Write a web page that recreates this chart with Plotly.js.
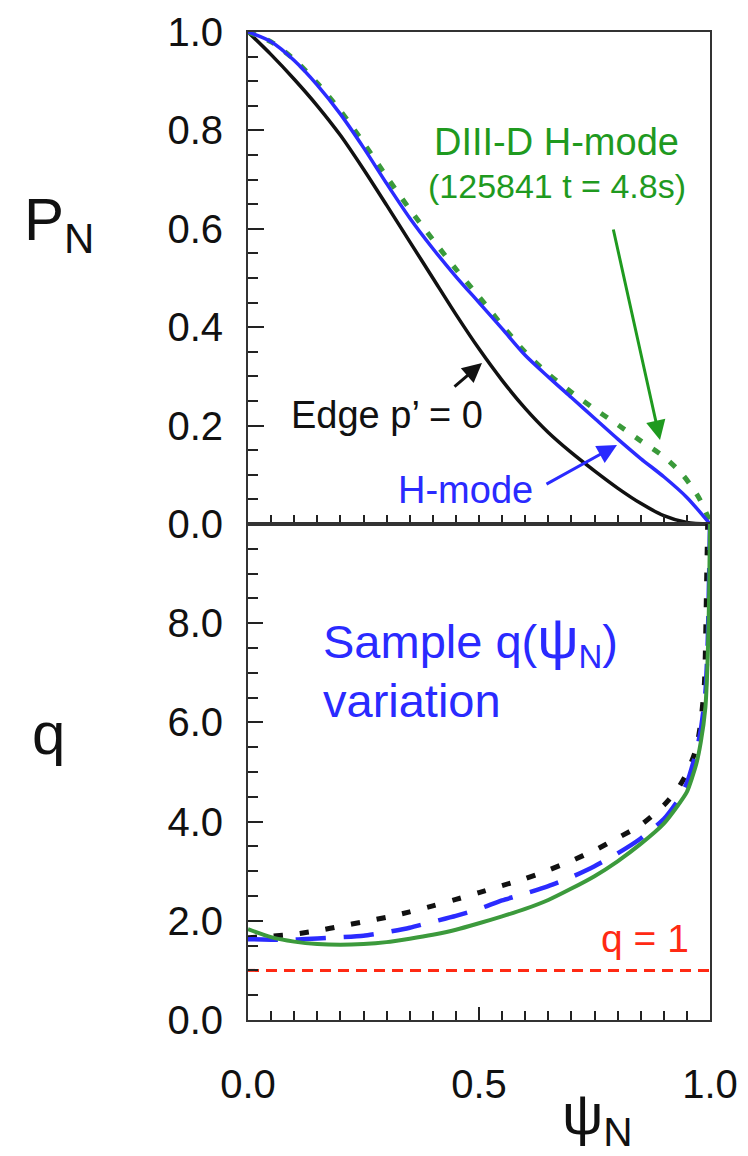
<!DOCTYPE html>
<html>
<head>
<meta charset="utf-8">
<script src="https://cdn.plot.ly/plotly-3.0.1.min.js"></script>
<style>html,body{margin:0;padding:0;background:#fff;}#chart{width:748px;height:1156px;}</style>
</head>
<body>
<div id="chart"></div>
<script>
// ---------- DATA ----------
// Top panel: normalized pressure P_N vs psi_N
const psiTop = [0, 0.05, 0.10, 0.15, 0.20, 0.25, 0.30, 0.35, 0.40, 0.45, 0.50, 0.55, 0.60, 0.65, 0.70, 0.75, 0.80, 0.85, 0.90, 0.95, 1.00];
const pEdgeZero = [1.000, 0.954, 0.904, 0.850, 0.790, 0.721, 0.648, 0.574, 0.500, 0.426, 0.356, 0.292, 0.235, 0.186, 0.145, 0.108, 0.073, 0.042, 0.017, 0.003, 0.000];
const pHmode = [1.000, 0.980, 0.942, 0.892, 0.833, 0.765, 0.692, 0.622, 0.560, 0.503, 0.450, 0.397, 0.343, 0.299, 0.257, 0.215, 0.173, 0.133, 0.096, 0.054, 0.000];
const psiDiii = [0, 0.05, 0.10, 0.15, 0.20, 0.25, 0.30, 0.35, 0.40, 0.45, 0.50, 0.55, 0.60, 0.65, 0.70, 0.75, 0.80, 0.85, 0.90, 0.94, 0.975, 1.00];
const pDiii = [1.000, 0.980, 0.944, 0.896, 0.840, 0.775, 0.706, 0.640, 0.578, 0.518, 0.462, 0.404, 0.349, 0.305, 0.268, 0.234, 0.202, 0.169, 0.137, 0.101, 0.055, 0.005];

// Bottom panel: safety factor q vs psi_N
const psiQGreen = [0, 0.05, 0.10, 0.15, 0.20, 0.25, 0.30, 0.35, 0.40, 0.45, 0.50, 0.55, 0.60, 0.65, 0.70, 0.75, 0.80, 0.85, 0.90, 0.93, 0.95, 0.97, 0.98, 0.99, 0.995, 0.998, 1.00];
const qGreen = [1.83, 1.67, 1.58, 1.53, 1.515, 1.53, 1.57, 1.64, 1.72, 1.82, 1.95, 2.09, 2.24, 2.42, 2.65, 2.90, 3.20, 3.55, 3.96, 4.32, 4.60, 5.15, 5.60, 6.30, 7.30, 8.50, 10.0];
const psiQBlue = [0, 0.05, 0.10, 0.15, 0.20, 0.25, 0.30, 0.35, 0.40, 0.45, 0.50, 0.55, 0.60, 0.65, 0.70, 0.75, 0.80, 0.85, 0.90, 0.93, 0.95, 0.97, 0.98, 0.99, 0.995, 1.00];
const qBlue = [1.63, 1.62, 1.62, 1.645, 1.67, 1.70, 1.77, 1.86, 1.98, 2.10, 2.24, 2.41, 2.55, 2.70, 2.88, 3.10, 3.36, 3.66, 4.05, 4.42, 4.78, 5.40, 5.85, 6.60, 7.60, 10.0];
const psiQBlack = [0, 0.05, 0.10, 0.15, 0.20, 0.25, 0.30, 0.35, 0.40, 0.45, 0.50, 0.55, 0.60, 0.65, 0.70, 0.75, 0.80, 0.85, 0.90, 0.93, 0.95, 0.97, 0.98, 0.988, 0.993, 0.995];
const qBlack = [1.66, 1.69, 1.73, 1.80, 1.89, 1.98, 2.07, 2.18, 2.30, 2.43, 2.57, 2.71, 2.85, 3.02, 3.21, 3.42, 3.67, 3.93, 4.33, 4.66, 4.98, 5.47, 6.00, 6.80, 9.00, 10.0];
const psiQRef = [0, 1];
const qRef = [1, 1];

// Tick labels
const pTickVals = [0, 0.2, 0.4, 0.6, 0.8, 1.0];
const pTickText = ['0.0', '0.2', '0.4', '0.6', '0.8', '1.0'];
const qTickVals = [0, 2, 4, 6, 8];
const qTickText = ['0.0', '2.0', '4.0', '6.0', '8.0'];
const psiTickVals = [0, 0.5, 1.0];
const psiTickText = ['0.0', '0.5', '1.0'];

// ---------- LAYOUT HELPERS ----------
const FONT = 'Liberation Sans, Arial, Helvetica, sans-serif';
const L = 248, R = 710, T = 32, B = 1020;
const px = x => (x - L) / (R - L);
const py = y => (B - y) / (B - T);
const GREEN_T = '#1f9a1f', BLUE_T = '#2a2aff', RED = '#ff2a14';

const traces = [
  {x: psiTop, y: pEdgeZero, xaxis: 'x', yaxis: 'y', mode: 'lines',
   line: {color: '#111111', width: 3.5, shape: 'spline', smoothing: 0.8}},
  {x: psiDiii, y: pDiii, xaxis: 'x', yaxis: 'y', mode: 'lines',
   line: {color: '#3a9a3a', width: 5, dash: '8px,13px', shape: 'spline', smoothing: 0.8}},
  {x: psiTop, y: pHmode, xaxis: 'x', yaxis: 'y', mode: 'lines',
   line: {color: '#2b2bff', width: 3.5, shape: 'spline', smoothing: 0.8}},
  {x: psiQRef, y: qRef, xaxis: 'x2', yaxis: 'y2', mode: 'lines',
   line: {color: RED, width: 3, dash: '11px,7px'}},
  {x: psiQBlack, y: qBlack, xaxis: 'x2', yaxis: 'y2', mode: 'lines',
   line: {color: '#111111', width: 5, dash: '9px,17px', shape: 'spline', smoothing: 0.6}},
  {x: psiQBlue, y: qBlue, xaxis: 'x2', yaxis: 'y2', mode: 'lines',
   line: {color: '#2b2bff', width: 4.5, dash: '30px,18px', shape: 'spline', smoothing: 0.6}},
  {x: psiQGreen, y: qGreen, xaxis: 'x2', yaxis: 'y2', mode: 'lines',
   line: {color: '#3c9a3c', width: 4, shape: 'spline', smoothing: 0.6}}
];

const axisCommon = {
  showgrid: false, zeroline: false, showline: true, mirror: true,
  linecolor: '#333333', linewidth: 2, ticks: 'inside', tickcolor: '#222222', tickwidth: 2,
  tickfont: {family: FONT, size: 40, color: '#111111'}
};

const splitY = py(524);

const layout = {
  width: 748, height: 1156,
  margin: {l: L, r: 748 - R, t: T, b: 1156 - B},
  paper_bgcolor: '#ffffff', plot_bgcolor: '#ffffff',
  showlegend: false,
  font: {family: FONT},
  xaxis: Object.assign({}, axisCommon, {
    domain: [0, 1], anchor: 'y', range: [0, 1],
    showticklabels: false, tickmode: 'linear', tick0: 0, dtick: 0.05, ticklen: 9
  }),
  yaxis: Object.assign({}, axisCommon, {
    domain: [splitY, 1], anchor: 'x', range: [0, 1],
    tickmode: 'array', tickvals: pTickVals, ticktext: pTickText, ticklen: 16,
    ticklabelstandoff: 15,
    minor: {ticks: 'inside', dtick: 0.05, tick0: 0, ticklen: 10, tickcolor: '#222222', tickwidth: 2, showgrid: false}
  }),
  xaxis2: Object.assign({}, axisCommon, {
    domain: [0, 1], anchor: 'y2', range: [0, 1],
    tickmode: 'array', tickvals: psiTickVals, ticktext: psiTickText, ticklen: 13,
    ticklabelstandoff: 28,
    minor: {ticks: 'inside', dtick: 0.05, tick0: 0, ticklen: 9, tickcolor: '#222222', tickwidth: 2, showgrid: false}
  }),
  yaxis2: Object.assign({}, axisCommon, {
    domain: [0, splitY], anchor: 'x2', range: [0, 10],
    tickmode: 'array', tickvals: qTickVals, ticktext: qTickText, ticklen: 15,
    ticklabelstandoff: 15,
    minor: {ticks: 'inside', dtick: 0.5, tick0: 0, ticklen: 10, tickcolor: '#222222', tickwidth: 2, showgrid: false}
  }),
  annotations: [
    // axis labels
    {xref: 'paper', yref: 'paper', x: px(22), y: py(224), xanchor: 'left', yanchor: 'middle',
     text: 'P<sub>N</sub>', showarrow: false, font: {family: FONT, size: 60, color: '#111111'}},
    {xref: 'paper', yref: 'paper', x: px(30), y: py(733), xanchor: 'left', yanchor: 'middle',
     text: 'q', showarrow: false, font: {family: FONT, size: 60, color: '#111111'}},
    {xref: 'paper', yref: 'paper', x: px(560), y: py(1118), xanchor: 'left', yanchor: 'middle',
     text: 'ψ<sub>N</sub>', showarrow: false, font: {family: FONT, size: 58, color: '#111111'}},
    // DIII-D label
    {xref: 'paper', yref: 'paper', x: px(556), y: py(142), xanchor: 'center', yanchor: 'middle',
     text: 'DIII-D H-mode', showarrow: false, font: {family: FONT, size: 38, color: GREEN_T}},
    {xref: 'paper', yref: 'paper', x: px(557), y: py(186), xanchor: 'center', yanchor: 'middle',
     text: '(125841 t = 4.8s)', showarrow: false, font: {family: FONT, size: 34, color: GREEN_T}},
    {xref: 'paper', yref: 'paper', x: px(660), y: py(440), ax: 613 - 660, ay: 228 - 440,
     text: '', showarrow: true, arrowhead: 2, arrowsize: 1.3, arrowwidth: 3, arrowcolor: '#1f9a1f'},
    // Edge p' = 0
    {xref: 'paper', yref: 'paper', x: px(387), y: py(415), xanchor: 'center', yanchor: 'middle',
     text: 'Edge p’ = 0', showarrow: false, font: {family: FONT, size: 38, color: '#111111'}},
    {xref: 'paper', yref: 'paper', x: px(482), y: py(363), ax: 453 - 482, ay: 388 - 363,
     text: '', showarrow: true, arrowhead: 2, arrowsize: 1.3, arrowwidth: 3, arrowcolor: '#111111'},
    // H-mode
    {xref: 'paper', yref: 'paper', x: px(465), y: py(490), xanchor: 'center', yanchor: 'middle',
     text: 'H-mode', showarrow: false, font: {family: FONT, size: 38, color: BLUE_T}},
    {xref: 'paper', yref: 'paper', x: px(617), y: py(445), ax: 545 - 617, ay: 485 - 445,
     text: '', showarrow: true, arrowhead: 2, arrowsize: 1.3, arrowwidth: 3, arrowcolor: BLUE_T},
    // Sample q variation
    {xref: 'paper', yref: 'paper', x: px(321), y: py(640), xanchor: 'left', yanchor: 'middle',
     text: 'Sample q(<span style="font-size:58px">ψ</span><sub>N</sub>)', showarrow: false,
     font: {family: FONT, size: 47, color: BLUE_T}},
    {xref: 'paper', yref: 'paper', x: px(321), y: py(700), xanchor: 'left', yanchor: 'middle',
     text: 'variation', showarrow: false, font: {family: FONT, size: 47, color: BLUE_T}},
    // q = 1
    {xref: 'paper', yref: 'paper', x: px(599), y: py(938), xanchor: 'left', yanchor: 'middle',
     text: 'q = 1', showarrow: false, font: {family: FONT, size: 39, color: RED}}
  ]
};

Plotly.newPlot('chart', traces, layout, {displayModeBar: false, staticPlot: true});
</script>
</body>
</html>
